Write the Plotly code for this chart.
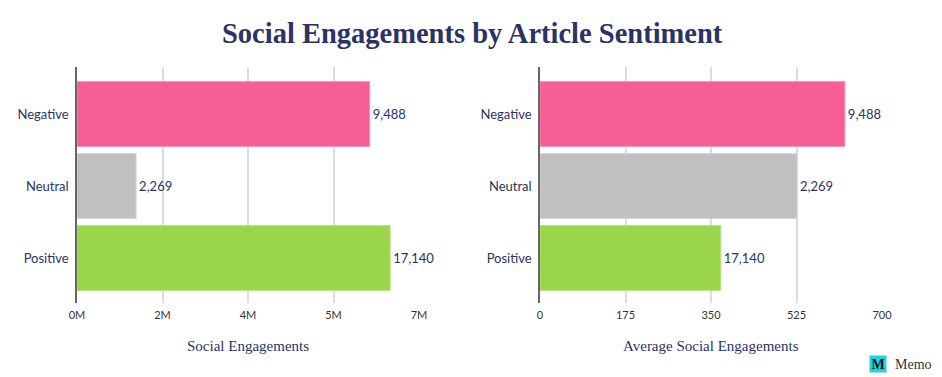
import plotly.graph_objects as go

categories = ["Negative", "Neutral", "Positive"]
total_engagements = [5.99e6, 1.21e6, 6.41e6]
avg_engagements = [624, 526, 370]
bar_labels = ["9,488", "2,269", "17,140"]
colors = ["#F75E96", "#C0C0C0", "#9AD54C"]
line_colors = ["#FA8FB6", "#D6D6D6", "#B5E27B"]

left_tickvals = [0, 1.75e6, 3.5e6, 5.25e6, 7e6]
left_ticktext = ["0M", "2M", "4M", "5M", "7M"]
right_tickvals = [0, 175, 350, 525, 700]
right_ticktext = ["0", "175", "350", "525", "700"]

NAVY = "#2B3266"
SANS = "Lato"
SERIF = "Liberation Serif"

fig = go.Figure()
for xvals, xa, ya in [(total_engagements, "x", "y"), (avg_engagements, "x2", "y2")]:
    fig.add_trace(go.Bar(
        y=categories, x=xvals, orientation="h",
        marker=dict(color=colors, line=dict(color=line_colors, width=1)),
        text=bar_labels, textposition="outside", cliponaxis=False,
        textfont=dict(family=SANS, size=13, color=NAVY),
        width=0.9, xaxis=xa, yaxis=ya, hoverinfo="skip",
    ))

W, H = 942, 377
yr = [2.625, -0.653]
ydom = [(H - 303) / H, (H - 67) / H]

axis_common = dict(
    showgrid=True, gridcolor="#DDDDDD", gridwidth=1.5,
    zeroline=False, showline=False, ticks="", automargin=False,
    tickfont=dict(family=SANS, size=11, color="#333333"),
    ticklabelstandoff=4, fixedrange=True,
)
ycommon = dict(
    range=yr, domain=ydom, showgrid=False, zeroline=False, automargin=False,
    showline=True, linecolor="#666666", linewidth=1.5, ticks="",
    tickfont=dict(family=SANS, size=13, color=NAVY),
    ticklabelstandoff=4, fixedrange=True,
)

fig.update_layout(
    width=W, height=H,
    margin=dict(l=0, r=0, t=0, b=0, autoexpand=False),
    paper_bgcolor="white", plot_bgcolor="white",
    showlegend=False,
    xaxis=dict(domain=[77 / W, 419 / W], range=[0, 7e6], anchor="y",
               tickvals=left_tickvals, ticktext=left_ticktext, **axis_common),
    yaxis=dict(anchor="x", **ycommon),
    xaxis2=dict(domain=[540 / W, 882 / W], range=[0, 700], anchor="y2",
                tickvals=right_tickvals, ticktext=right_ticktext, **axis_common),
    yaxis2=dict(anchor="x2", **ycommon),
    annotations=[
        dict(text="<b>Social Engagements by Article Sentiment</b>", xref="paper", yref="paper",
             x=472 / W, y=(H - 33) / H, xanchor="center", yanchor="middle", showarrow=False,
             font=dict(family=SERIF, size=28.5, color=NAVY)),
        dict(text="Social Engagements", xref="paper", yref="paper",
             x=248 / W, y=(H - 346) / H, xanchor="center", yanchor="middle", showarrow=False,
             font=dict(family=SERIF, size=15, color=NAVY)),
        dict(text="Average Social Engagements", xref="paper", yref="paper",
             x=711 / W, y=(H - 346) / H, xanchor="center", yanchor="middle", showarrow=False,
             font=dict(family=SERIF, size=15, color=NAVY)),
        dict(text="<b>M</b>", xref="paper", yref="paper",
             x=878 / W, y=(H - 364) / H, xanchor="center", yanchor="middle", showarrow=False,
             bgcolor="#1FD3E0", width=16, height=16, borderpad=0,
             font=dict(family=SERIF, size=14, color="#111111")),
        dict(text="Memo", xref="paper", yref="paper",
             x=893 / W, y=(H - 364) / H, xanchor="left", yanchor="middle", showarrow=False,
             font=dict(family=SERIF, size=14, color="#333333")),
    ],
)

fig.write_html(
    "out.html",
    config={"displayModeBar": False},
    post_script="document.body.style.margin='0';document.body.style.overflow='hidden';",
)
